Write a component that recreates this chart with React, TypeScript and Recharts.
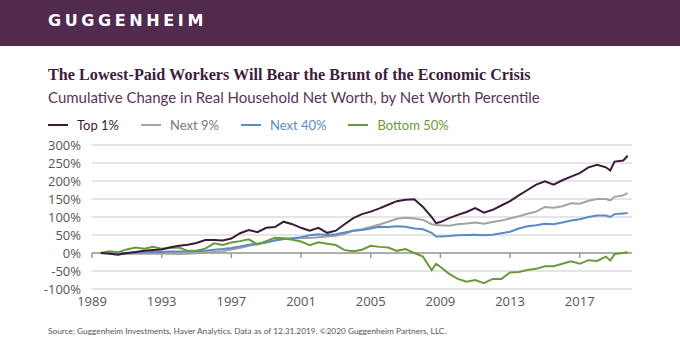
import React from 'react';
import { LineChart, Line, XAxis, YAxis, CartesianGrid, ReferenceLine } from 'recharts';

const years = [
  1989.5, 1990, 1990.5, 1991, 1991.5, 1992, 1992.5, 1993, 1993.5, 1994, 1994.5, 1995, 1995.5,
  1996, 1996.5, 1997, 1997.5, 1998, 1998.5, 1999, 1999.5, 2000, 2000.5, 2001, 2001.5, 2002,
  2002.5, 2003, 2003.5, 2004, 2004.5, 2005, 2005.5, 2006, 2006.5, 2007, 2007.5, 2008, 2008.5,
  2008.75, 2009, 2009.5, 2010, 2010.5, 2011, 2011.5, 2012, 2012.5, 2013, 2013.5, 2014, 2014.5,
  2015, 2015.5, 2016, 2016.5, 2017, 2017.5, 2018, 2018.5, 2018.75, 2019, 2019.5, 2019.75,
];
const top1 = [
  0, -2, -5, 0, 3, 6, 8, 10, 16, 20, 23, 28, 36,
  36, 35, 40, 55, 64, 58, 70, 72, 87, 80, 70, 62, 70,
  56, 62, 80, 97, 108, 115, 124, 134, 144, 148, 149, 128, 100,
  83, 86, 97, 106, 114, 125, 112, 120, 132, 144, 160, 175, 190,
  199, 190, 202, 212, 222, 238, 245, 238, 229, 254, 257, 270,
];
const next9 = [
  0, 2, -2, -3, -2, -2, -2, -2, -2, -3, -2, -1, 1,
  3, 5, 10, 14, 20, 24, 30, 35, 39, 40, 42, 42, 44,
  46, 48, 53, 62, 66, 72, 79, 87, 95, 98, 96, 92, 80,
  78, 77, 76, 80, 82, 85, 81, 86, 90, 96, 102, 109, 115,
  128, 126, 130, 138, 137, 145, 150, 150, 146, 156, 160, 167,
];
const next40 = [
  0, 0, -1, 0, 1, 2, 3, 3, 4, 4, 4, 5, 6,
  9, 11, 14, 18, 23, 26, 29, 35, 39, 41, 44, 49, 52,
  50, 52, 57, 62, 64, 68, 73, 72, 74, 73, 68, 66, 56,
  46, 46, 47, 49, 50, 51, 49, 51, 55, 59, 68, 74, 77,
  81, 80, 85, 90, 94, 100, 104, 104, 100, 108, 110, 111,
];
const bottom50 = [
  0, 5, 2, 10, 15, 12, 17, 12, 14, 15, 6, 6, 12,
  27, 22, 29, 33, 38, 24, 33, 42, 41, 37, 32, 22, 30,
  26, 22, 8, 5, 9, 20, 17, 15, 6, 11, 0, -10, -48,
  -30, -38, -58, -72, -80, -75, -84, -72, -72, -54, -53, -47, -44,
  -37, -37, -30, -23, -30, -20, -22, -10, -21, -3, 0, 3,
];

const tickYears = [1989, 1993, 1997, 2001, 2005, 2009, 2013, 2017];
const yTicks = [-100, -50, 0, 50, 100, 150, 200, 250, 300];

const seriesNames = ['Top 1%', 'Next 9%', 'Next 40%', 'Bottom 50%'];
const seriesColors = ['#3b1a39', '#a3a3a3', '#5b8bc6', '#6b9a3b'];
const legendTextColors = ['#3b1a39', '#7a7a7a', '#5b8bc6', '#6b9a3b'];

const rows = years.map((y, i) => ({
  year: y,
  top1: top1[i],
  next9: next9[i],
  next40: next40[i],
  bottom50: bottom50[i],
}));

const tickFont = { fill: '#555', fontSize: 13, fontFamily: '"Open Sans"' };

export default function App() {
  return (
    <div
      style={{
        position: 'absolute',
        left: 0,
        top: 0,
        width: 680,
        height: 360,
        background: '#ffffff',
        overflow: 'hidden',
      }}
    >
      <div style={{ position: 'absolute', left: 0, top: 0, width: 680, height: 46, background: '#522a4e' }} />
      <div
        style={{
          position: 'absolute',
          left: 48,
          top: 12,
          color: '#ffffff',
          fontFamily: '"DejaVu Sans"',
          fontWeight: 'bold',
          fontSize: 16,
          letterSpacing: 3.6,
          lineHeight: '18px',
          whiteSpace: 'nowrap',
        }}
      >
        GUGGENHEIM
      </div>
      <div
        style={{
          position: 'absolute',
          left: 48,
          top: 65,
          color: '#3d1d3b',
          fontFamily: '"Liberation Serif"',
          fontWeight: 'bold',
          fontSize: 16.2,
          lineHeight: '20px',
          whiteSpace: 'nowrap',
        }}
      >
        The Lowest-Paid Workers Will Bear the Brunt of the Economic Crisis
      </div>
      <div
        style={{
          position: 'absolute',
          left: 48,
          top: 87,
          color: '#5a3458',
          fontFamily: 'Lato',
          fontSize: 15,
          lineHeight: '20px',
          whiteSpace: 'nowrap',
        }}
      >
        Cumulative Change in Real Household Net Worth, by Net Worth Percentile
      </div>
      <div
        style={{
          position: 'absolute',
          left: 48,
          top: 117,
          display: 'flex',
          alignItems: 'center',
          fontFamily: 'Lato',
          fontSize: 13,
          lineHeight: '16px',
          whiteSpace: 'nowrap',
        }}
      >
        {seriesNames.map((n, i) => (
          <div key={n} style={{ display: 'flex', alignItems: 'center', marginRight: 22 }}>
            <div style={{ width: 20, height: 2, background: seriesColors[i], marginRight: 9 }} />
            <span style={{ color: legendTextColors[i] }}>{n}</span>
          </div>
        ))}
      </div>
      <div style={{ position: 'absolute', left: 0, top: 0 }}>
        <LineChart width={680} height={360} data={rows} margin={{ top: 145, right: 48, bottom: 41, left: 0 }}>
          <CartesianGrid vertical={false} stroke="#dddddd" strokeWidth={1.5} />
          <XAxis
            dataKey="year"
            type="number"
            domain={[1989, 2020]}
            ticks={tickYears}
            interval={0}
            axisLine={false}
            tickLine={false}
            tickSize={0}
            tickMargin={8}
            height={30}
            tick={tickFont}
            allowDataOverflow
          />
          <YAxis
            type="number"
            domain={[-100, 300]}
            ticks={yTicks}
            interval={0}
            tickFormatter={(v) => `${v}%`}
            width={92}
            axisLine={false}
            tickLine={false}
            tickSize={0}
            tickMargin={11}
            tick={tickFont}
          />
          <ReferenceLine y={0} stroke="#9a9a9a" strokeWidth={1.5} />
          {tickYears.map((t) => (
            <ReferenceLine
              key={t}
              segment={[
                { x: t, y: 0 },
                { x: t, y: -14 },
              ]}
              stroke="#9a9a9a"
              strokeWidth={1.5}
            />
          ))}
          <Line dataKey="next9" stroke={seriesColors[1]} strokeWidth={2} dot={false} isAnimationActive={false} type="linear" />
          <Line dataKey="next40" stroke={seriesColors[2]} strokeWidth={2} dot={false} isAnimationActive={false} type="linear" />
          <Line dataKey="bottom50" stroke={seriesColors[3]} strokeWidth={2} dot={false} isAnimationActive={false} type="linear" />
          <Line dataKey="top1" stroke={seriesColors[0]} strokeWidth={2} dot={false} isAnimationActive={false} type="linear" />
        </LineChart>
      </div>
      <div
        style={{
          position: 'absolute',
          left: 48,
          top: 325,
          color: '#555555',
          fontFamily: 'Lato',
          fontSize: 8.3,
          lineHeight: '12px',
          whiteSpace: 'nowrap',
        }}
      >
        Source: Guggenheim Investments, Haver Analytics. Data as of 12.31.2019. ©2020 Guggenheim Partners, LLC.
      </div>
    </div>
  );
}
